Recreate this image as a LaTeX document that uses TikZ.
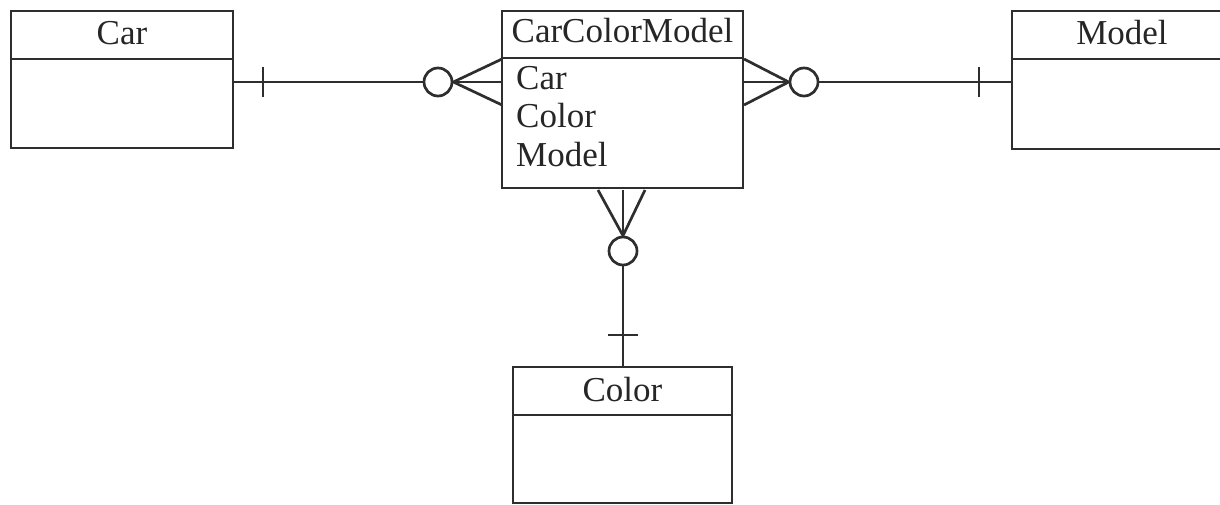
\documentclass[tikz,border=0pt]{standalone}
\usepackage{fontspec}
\setmainfont{Liberation Serif}
\begin{document}
\begin{tikzpicture}[x=1pt,y=-1pt,
  ink/.style={draw=black!82, line width=2.7pt},
  entity/.style={ink, rectangle, inner sep=0pt},
  circ/.style={ink, circle, minimum size=28pt, inner sep=0pt},
  lbl/.style={anchor=base, inner sep=0pt, text=black!85, font=\fontsize{35}{40}\selectfont},
  attr/.style={lbl, anchor=base west}]
\useasboundingbox (0,0) rectangle (1220,505);
% entity boxes
\node[entity, minimum width=222pt, minimum height=137pt] (car) at (122,79.5) {};
\node[entity, minimum width=241pt, minimum height=177pt] (ccm) at (622.5,99.5) {};
\node[entity, minimum width=222pt, minimum height=138pt] (model) at (1123,80) {};
\node[entity, minimum width=219pt, minimum height=136pt] (color) at (622.5,435) {};
% header separators
\draw[ink] (car.west |- 0,59) -- (car.east |- 0,59);
\draw[ink] (ccm.west |- 0,58) -- (ccm.east |- 0,58);
\draw[ink] (model.west |- 0,59) -- (model.east |- 0,59);
\draw[ink] (color.west |- 0,415) -- (color.east |- 0,415);
% labels
\node[lbl] (tcar) at (122,44.5) {Car};
\node[lbl] (tccm) at (622.5,43) {CarColorModel};
\node[lbl] (tmodel) at (1122,44.5) {Model};
\node[lbl] (tcolor) at (622.5,401) {Color};
\node[attr] (a1) at (516,90) {Car};
\node[attr] (a2) at (516,128) {Color};
\node[attr] (a3) at (516,167) {Model};
% circles
\node[circ] (c1) at (438,82) {};
\node[circ] (c2) at (804,82) {};
\node[circ] (c3) at (623,251) {};
% crow foot ends
\coordinate (k1a) at (502,59); \coordinate (k1b) at (502,82); \coordinate (k1c) at (502,105);
\coordinate (k2a) at (744,59); \coordinate (k2b) at (744,82); \coordinate (k2c) at (744,105);
\coordinate (k3a) at (598,190); \coordinate (k3b) at (623,190); \coordinate (k3c) at (645,190);
% Car -- CarColorModel
\draw[ink] (car.east |- c1) -- (c1.west);
\draw[ink] (c1.east) -- (k1a); \draw[ink] (c1.east) -- (k1b); \draw[ink] (c1.east) -- (k1c);
\coordinate (t1) at (263,82);
\draw[ink] ([yshift=-15pt]t1) -- ([yshift=15pt]t1);
% CarColorModel -- Model
\draw[ink] (c2.east) -- (model.west |- c2);
\draw[ink] (c2.west) -- (k2a); \draw[ink] (c2.west) -- (k2b); \draw[ink] (c2.west) -- (k2c);
\coordinate (t2) at (979,82);
\draw[ink] ([yshift=-15pt]t2) -- ([yshift=15pt]t2);
% CarColorModel -- Color
\draw[ink] (c3.south) -- (c3.south |- color.north);
\draw[ink] (c3.north) -- (k3a); \draw[ink] (c3.north) -- (k3b); \draw[ink] (c3.north) -- (k3c);
\coordinate (t3) at (623,335);
\draw[ink] ([xshift=-15pt]t3) -- ([xshift=15pt]t3);
\end{tikzpicture}
\end{document}
